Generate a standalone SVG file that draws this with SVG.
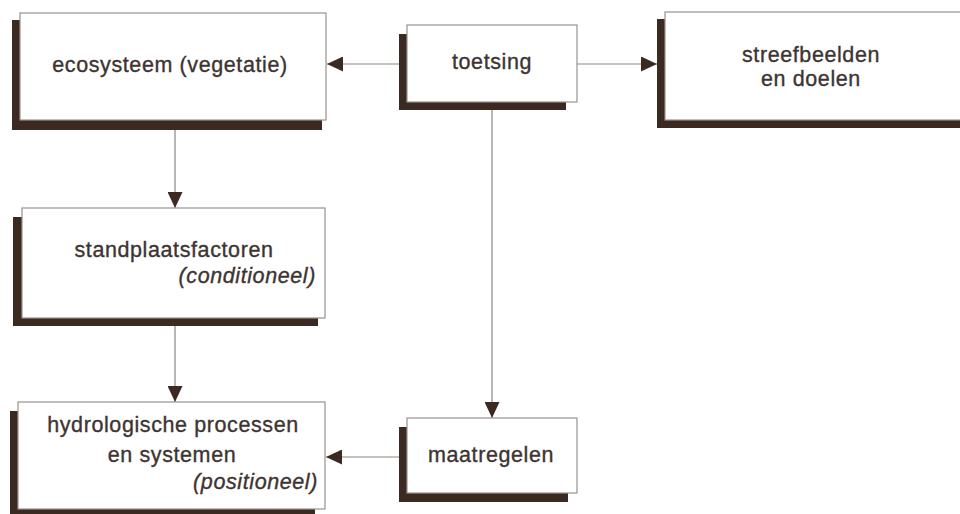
<svg xmlns="http://www.w3.org/2000/svg" width="960" height="514" viewBox="0 0 960 514">
<style>
.shadow{fill:#3b2a22}
.box{fill:#ffffff;stroke:#9a918c;stroke-width:1.2}
.t{font-family:"Liberation Sans",Arial,sans-serif;font-size:21.5px;fill:#3d3431;stroke:#3d3431;stroke-width:0.35;letter-spacing:0.6px}
.c{text-anchor:middle}
.r{text-anchor:end}
.i{font-style:italic}
.conn{stroke:#8c8580;stroke-width:1.2;fill:none}
</style>
<defs>
<marker id="ah" viewBox="0 0 16 15" refX="16" refY="7.5" markerWidth="16" markerHeight="15" markerUnits="userSpaceOnUse" orient="auto">
<path d="M0,0 L16,7.5 L0,15 z" fill="#3b2a22"/>
</marker>
</defs>
<rect width="960" height="514" fill="#ffffff"/>
<g id="connectors">
<line class="conn" x1="399" y1="64" x2="327" y2="64" marker-end="url(#ah)"/>
<line class="conn" x1="577" y1="64" x2="657" y2="64" marker-end="url(#ah)"/>
<line class="conn" x1="175" y1="130" x2="175" y2="208" marker-end="url(#ah)"/>
<line class="conn" x1="175" y1="326" x2="175" y2="402" marker-end="url(#ah)"/>
<line class="conn" x1="492" y1="110" x2="492" y2="418" marker-end="url(#ah)"/>
<line class="conn" x1="399" y1="457" x2="326" y2="457" marker-end="url(#ah)"/>
</g>
<g id="ecosysteem">
<rect class="shadow" x="12" y="20" width="310" height="110"/>
<rect class="box" x="20" y="13" width="306" height="107"/>
<text class="t c" x="170" y="72">ecosysteem (vegetatie)</text>
</g>
<g id="toetsing">
<rect class="shadow" x="399" y="34" width="167" height="76"/>
<rect class="box" x="407" y="25" width="170" height="77"/>
<text class="t c" x="492" y="69">toetsing</text>
</g>
<g id="streefbeelden">
<rect class="shadow" x="657" y="19" width="320" height="109"/>
<rect class="box" x="665" y="12" width="320" height="108"/>
<text class="t c" x="811" y="62">streefbeelden</text>
<text class="t c" x="811" y="86">en doelen</text>
</g>
<g id="standplaatsfactoren">
<rect class="shadow" x="13" y="217" width="305" height="109"/>
<rect class="box" x="22" y="208" width="303" height="110"/>
<text class="t c" x="174" y="257">standplaatsfactoren</text>
<text class="t r i" x="316" y="283">(conditioneel)</text>
</g>
<g id="hydrologische">
<rect class="shadow" x="10" y="411" width="305" height="110"/>
<rect class="box" x="18" y="402" width="307" height="107"/>
<text class="t c" x="173" y="432">hydrologische processen</text>
<text class="t c" x="172" y="462">en systemen</text>
<text class="t r i" x="318" y="489">(positioneel)</text>
</g>
<g id="maatregelen">
<rect class="shadow" x="399" y="427" width="169" height="75"/>
<rect class="box" x="407" y="418" width="170" height="75"/>
<text class="t c" x="491" y="462">maatregelen</text>
</g>
</svg>
